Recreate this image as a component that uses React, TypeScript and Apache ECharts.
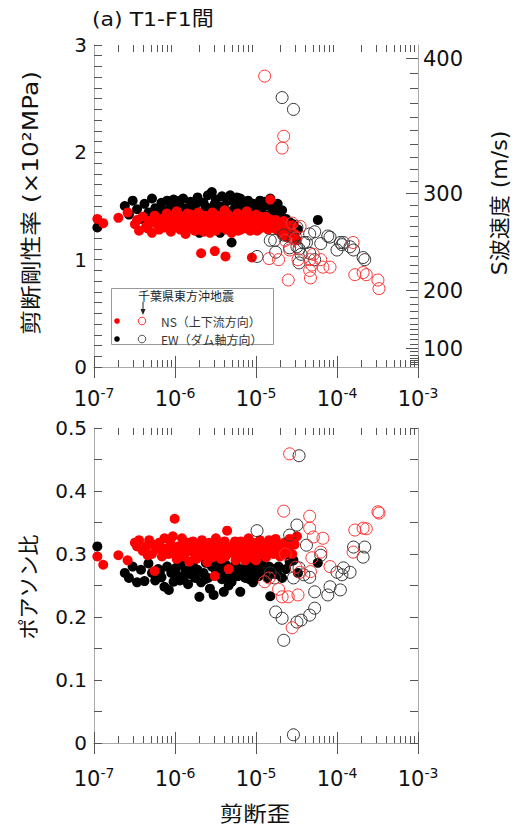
import React, { useEffect, useRef } from "react";
import * as echarts from "echarts";

// ---------- data: [shear strain, shear modulus (x10^2 MPa), Poisson's ratio] ----------
const nsSolid: [number, number, number][] = [
  [1.1e-7, 1.38, 0.296], [1.3e-7, 1.34, 0.283], [2.0e-7, 1.39, 0.298], [2.6e-7, 1.44, 0.29],
  [3.2e-7, 1.33, 0.318], [3.4e-7, 1.37, 0.312], [3.6e-7, 1.27, 0.322], [4.0e-7, 1.40, 0.305],
  [4.4e-7, 1.31, 0.312], [4.6e-7, 1.29, 0.298], [4.8e-7, 1.36, 0.322], [5.2e-7, 1.25, 0.30],
  [5.4e-7, 1.35, 0.315], [5.6e-7, 1.41, 0.273], [6.0e-7, 1.33, 0.31], [6.4e-7, 1.28, 0.318],
  [6.7e-7, 1.32, 0.306], [6.9e-7, 1.38, 0.296], [7.4e-7, 1.30, 0.325], [7.6e-7, 1.37, 0.30],
  [7.9e-7, 1.43, 0.309], [8.4e-7, 1.34, 0.30], [8.7e-7, 1.31, 0.322], [8.9e-7, 1.26, 0.314],
  [9.4e-7, 1.39, 0.328], [9.9e-7, 1.31, 0.356], [1.0e-6, 1.36, 0.305], [1.05e-6, 1.45, 0.292],
  [1.1e-6, 1.35, 0.312], [1.13e-6, 1.41, 0.298], [1.16e-6, 1.28, 0.304], [1.22e-6, 1.40, 0.325],
  [1.25e-6, 1.29, 0.316], [1.28e-6, 1.32, 0.296], [1.35e-6, 1.24, 0.31], [1.38e-6, 1.33, 0.303],
  [1.42e-6, 1.43, 0.318], [1.5e-6, 1.36, 0.288], [1.54e-6, 1.42, 0.31], [1.58e-6, 1.30, 0.306],
  [1.66e-6, 1.39, 0.32], [1.7e-6, 1.35, 0.318], [1.75e-6, 1.27, 0.30], [1.84e-6, 1.34, 0.292],
  [1.9e-6, 1.28, 0.298], [1.94e-6, 1.44, 0.314], [2.04e-6, 1.31, 0.305], [2.1e-6, 1.06, 0.298],
  [2.15e-6, 1.37, 0.322], [2.2e-6, 1.33, 0.308], [2.26e-6, 1.26, 0.298], [2.38e-6, 1.41, 0.31],
  [2.45e-6, 1.38, 0.296], [2.5e-6, 1.33, 0.287], [2.63e-6, 1.29, 0.318], [2.7e-6, 1.25, 0.312],
  [2.77e-6, 1.38, 0.303], [2.9e-6, 1.44, 0.295], [3.0e-6, 1.40, 0.318], [3.05e-6, 1.32, 0.31],
  [3.1e-6, 1.08, 0.265], [3.2e-6, 1.27, 0.325], [3.3e-6, 1.31, 0.305], [3.36e-6, 1.36, 0.30],
  [3.53e-6, 1.41, 0.316], [3.6e-6, 1.38, 0.296], [3.7e-6, 1.30, 0.292], [3.9e-6, 1.35, 0.306],
  [4.0e-6, 1.33, 0.315], [4.1e-6, 1.46, 0.32], [4.2e-6, 1.03, 0.296], [4.3e-6, 1.28, 0.299],
  [4.4e-6, 1.37, 0.337], [4.5e-6, 1.42, 0.302], [4.6e-6, 1.33, 0.276], [4.8e-6, 1.40, 0.31],
  [5.0e-6, 1.25, 0.302], [5.1e-6, 1.30, 0.308], [5.3e-6, 1.36, 0.315], [5.5e-6, 1.38, 0.32],
  [5.6e-6, 1.31, 0.29], [5.9e-6, 1.43, 0.308], [6.0e-6, 1.27, 0.303], [6.2e-6, 1.34, 0.296],
  [6.5e-6, 1.28, 0.32], [6.7e-6, 1.34, 0.313], [6.9e-6, 1.39, 0.305], [7.3e-6, 1.32, 0.29],
  [7.5e-6, 1.29, 0.298], [7.7e-6, 1.45, 0.312], [8.1e-6, 1.35, 0.325], [8.3e-6, 1.41, 0.31],
  [8.5e-6, 1.27, 0.30], [8.9e-6, 1.02, 0.294], [9.0e-6, 1.38, 0.318], [9.2e-6, 1.35, 0.30],
  [9.5e-6, 1.31, 0.306], [1.0e-5, 1.42, 0.29], [1.03e-5, 1.27, 0.318], [1.06e-5, 1.34, 0.313],
  [1.12e-5, 1.29, 0.322], [1.15e-5, 1.40, 0.305], [1.18e-5, 1.37, 0.30], [1.25e-5, 1.32, 0.31],
  [1.3e-5, 1.33, 0.298], [1.33e-5, 1.40, 0.295], [1.41e-5, 1.28, 0.318], [1.45e-5, 1.38, 0.322],
  [1.5e-5, 1.56, 0.305], [1.55e-5, 1.35, 0.312], [1.65e-5, 1.31, 0.30], [1.7e-5, 1.29, 0.307],
  [1.75e-5, 1.37, 0.324], [1.86e-5, 1.27, 0.311], [1.9e-5, 1.33, 0.315], [1.98e-5, 1.34, 0.296],
  [2.1e-5, 1.23, 0.305], [2.2e-5, 1.36, 0.30], [2.25e-5, 1.30, 0.318], [2.4e-5, 1.21, 0.311],
  [2.5e-5, 1.30, 0.31], [2.6e-5, 1.26, 0.324], [2.8e-5, 1.32, 0.30], [3.0e-5, 1.24, 0.315],
  [3.2e-5, 1.18, 0.328],
];

const ewSolid: [number, number, number][] = [
  [1.1e-7, 1.30, 0.312], [2.4e-7, 1.50, 0.27], [2.7e-7, 1.42, 0.262], [3.0e-7, 1.55, 0.28],
  [3.4e-7, 1.47, 0.255], [3.8e-7, 1.38, 0.275], [4.2e-7, 1.52, 0.257], [4.7e-7, 1.44, 0.285],
  [5.2e-7, 1.57, 0.27], [5.7e-7, 1.48, 0.258], [6.2e-7, 1.40, 0.276], [6.5e-7, 1.47, 0.272],
  [6.8e-7, 1.53, 0.263], [7.4e-7, 1.46, 0.248], [8.0e-7, 1.55, 0.28], [8.4e-7, 1.42, 0.243],
  [9.0e-7, 1.50, 0.27], [9.6e-7, 1.56, 0.256], [1.03e-6, 1.45, 0.278], [1.1e-6, 1.52, 0.265],
  [1.15e-6, 1.55, 0.258], [1.18e-6, 1.39, 0.284], [1.26e-6, 1.57, 0.26], [1.35e-6, 1.48, 0.274],
  [1.45e-6, 1.43, 0.252], [1.55e-6, 1.54, 0.268], [1.66e-6, 1.46, 0.282], [1.7e-6, 1.40, 0.266],
  [1.78e-6, 1.51, 0.262], [1.9e-6, 1.58, 0.275], [2.0e-6, 1.25, 0.232], [2.1e-6, 1.44, 0.255],
  [2.25e-6, 1.53, 0.27], [2.35e-6, 1.45, 0.26], [2.4e-6, 1.49, 0.286], [2.55e-6, 1.60, 0.262],
  [2.7e-6, 1.48, 0.245], [2.85e-6, 1.63, 0.28], [3.0e-6, 1.42, 0.235], [3.1e-6, 1.52, 0.283],
  [3.2e-6, 1.56, 0.274], [3.4e-6, 1.50, 0.266], [3.6e-6, 1.25, 0.28], [3.7e-6, 1.44, 0.272],
  [3.8e-6, 1.59, 0.26], [4.0e-6, 1.50, 0.24], [4.25e-6, 1.45, 0.283], [4.5e-6, 1.55, 0.262],
  [4.6e-6, 1.40, 0.25], [4.8e-6, 1.60, 0.275], [5.0e-6, 1.16, 0.256], [5.3e-6, 1.47, 0.27],
  [5.6e-6, 1.53, 0.284], [5.8e-6, 1.58, 0.278], [6.0e-6, 1.41, 0.265], [6.4e-6, 1.57, 0.24],
  [6.9e-6, 1.49, 0.276], [7.1e-6, 1.52, 0.268], [7.4e-6, 1.44, 0.262], [8.0e-6, 1.55, 0.283],
  [8.3e-6, 1.42, 0.26], [8.6e-6, 1.48, 0.27], [9.2e-6, 1.52, 0.255], [1.0e-5, 1.43, 0.278],
  [1.08e-5, 1.50, 0.265], [1.12e-5, 1.55, 0.272], [1.17e-5, 1.46, 0.285], [1.27e-5, 1.54, 0.27],
  [1.38e-5, 1.41, 0.262], [1.45e-5, 1.50, 0.28], [1.5e-5, 1.57, 0.233], [1.62e-5, 1.48, 0.276],
  [1.75e-5, 1.44, 0.268], [1.85e-5, 1.52, 0.268], [1.9e-5, 1.40, 0.28], [2.1e-5, 1.46, 0.262],
  [2.35e-5, 1.38, 0.276], [2.6e-5, 1.35, 0.288], [2.9e-5, 1.33, 0.29], [3.3e-5, 1.28, 0.27],
  [5.8e-5, 1.37, 0.286],
];

const nsOpen: [number, number, number][] = [
  [1.28e-5, 2.71, 0.256], [1.45e-5, 1.01, 0.262], [1.9e-5, 1.00, 0.244], [2.1e-5, 2.04, 0.232],
  [2.2e-5, 2.15, 0.368], [2.3e-5, 1.18, 0.30], [2.5e-5, 0.81, 0.232], [2.6e-5, 1.09, 0.459],
  [2.8e-5, 1.34, 0.183], [3.1e-5, 1.20, 0.279], [3.3e-5, 1.00, 0.235], [3.5e-5, 1.31, 0.271],
  [4.6e-5, 1.00, 0.36], [4.6e-5, 0.90, 0.341], [4.7e-5, 0.83, 0.272], [4.9e-5, 0.95, 0.294],
  [5.1e-5, 1.05, 0.327], [6.3e-5, 1.00, 0.303], [6.7e-5, 0.93, 0.325], [8.2e-5, 0.93, 0.28],
  [1.58e-4, 1.16, 0.303], [1.66e-4, 0.86, 0.338], [2.1e-4, 0.88, 0.341], [2.3e-4, 0.86, 0.34],
  [3.2e-4, 0.81, 0.367], [3.3e-4, 0.73, 0.365],
];

const ewOpen: [number, number, number][] = [
  [1.03e-5, 1.03, 0.337], [1.5e-5, 1.18, 0.27], [1.7e-5, 1.18, 0.262], [1.75e-5, 1.07, 0.208],
  [2.1e-5, 2.51, 0.198], [2.2e-5, 1.23, 0.163], [2.6e-5, 1.11, 0.33], [2.9e-5, 2.40, 0.013],
  [2.9e-5, 1.20, 0.262], [3.2e-5, 1.30, 0.346], [3.2e-5, 1.12, 0.192], [3.4e-5, 0.97, 0.278],
  [3.4e-5, 1.10, 0.456], [3.6e-5, 1.05, 0.195], [3.9e-5, 1.16, 0.267], [4.2e-5, 1.16, 0.314],
  [4.6e-5, 1.06, 0.263], [4.6e-5, 1.24, 0.203], [5.3e-5, 1.26, 0.214], [5.3e-5, 1.00, 0.240],
  [6.3e-5, 1.15, 0.298], [7.7e-5, 1.22, 0.235], [8.2e-5, 1.21, 0.248], [1.0e-4, 1.09, 0.271],
  [1.1e-4, 1.16, 0.243], [1.15e-4, 1.14, 0.267], [1.2e-4, 1.16, 0.278], [1.45e-4, 1.12, 0.271],
  [1.6e-4, 1.09, 0.311], [2.1e-4, 1.02, 0.295], [2.2e-4, 1.00, 0.311],
];

// ---------- axes ----------
const STRAIN_MIN = 1e-7;
const STRAIN_MAX = 1e-3;
const decadeExponents = [-7, -6, -5, -4];
const minorMultipliers = [2, 3, 4, 5, 6, 7, 8, 9];
const vsMajorLabels = [100, 200, 300, 400];
const vsMinorTicks = [40, 50, 60, 70, 80, 90, 110, 120, 130, 140, 150, 160, 170, 180, 190,
  210, 220, 230, 240, 250, 260, 270, 280, 290, 310, 320, 330, 340, 350, 360, 370, 380, 390];
const RHO = 1.8; // t/m^3 ; G(x10^2 MPa) = RHO * Vs^2 / 1e5

const LAT = "'DejaVu Sans', 'Noto Sans CJK JP', sans-serif";
const CJK = "'Noto Sans CJK JP', 'DejaVu Sans', sans-serif";
const AXIS_GRAY = "#aaaaaa";
const TICK = "#555555";

const minorStrainTicks: number[] = [];
decadeExponents.forEach((e) => minorMultipliers.forEach((m) => minorStrainTicks.push(m * Math.pow(10, e))));

function logLabel(v: number) {
  return `{b|10}{s|${Math.round(Math.log10(v))}}`;
}

function xAxisPair(grid: number, margin: number) {
  return [
    {
      type: "log", logBase: 10, gridIndex: grid, min: STRAIN_MIN, max: STRAIN_MAX, position: "bottom",
      axisLine: { show: true, lineStyle: { color: AXIS_GRAY, width: 1 } },
      axisTick: { show: true, inside: true, length: 11, lineStyle: { color: TICK } },
      splitLine: { show: false },
      axisLabel: {
        margin, formatter: logLabel,
        rich: {
          b: { fontSize: 21, fontFamily: LAT, color: "#111", lineHeight: 26 },
          s: { fontSize: 14, fontFamily: LAT, color: "#111", lineHeight: 14, verticalAlign: "top" },
        },
      },
    },
    {
      type: "log", logBase: 10, gridIndex: grid, min: STRAIN_MIN, max: STRAIN_MAX, position: "top",
      axisLine: { show: true, lineStyle: { color: AXIS_GRAY, width: 1 } },
      axisTick: { show: true, inside: true, length: 11, lineStyle: { color: TICK } },
      splitLine: { show: false },
      axisLabel: { show: false },
    },
  ];
}

function minorTickSeries(xi: number, yi: number) {
  return {
    type: "custom", xAxisIndex: xi, yAxisIndex: yi, silent: true, clip: false, z: 3,
    data: minorStrainTicks.map((v) => [v, 0]),
    encode: { x: 0, y: 1 },
    renderItem: (params: any, api: any) => {
      const cs = params.coordSys;
      const x = Math.round(api.coord([api.value(0), 0])[0]) + 0.5;
      const yb = cs.y + cs.height;
      const yt = cs.y;
      return {
        type: "group",
        children: [
          { type: "line", shape: { x1: x, y1: yb, x2: x, y2: yb - 7 }, style: { stroke: TICK, lineWidth: 1 } },
          { type: "line", shape: { x1: x, y1: yt, x2: x, y2: yt + 7 }, style: { stroke: TICK, lineWidth: 1 } },
        ],
      };
    },
  };
}

function scatterSeries(name: string, rows: [number, number, number][], xi: number, yi: number, col: number, open: boolean, color: string) {
  return {
    type: "scatter", name, xAxisIndex: xi, yAxisIndex: yi, symbol: "circle",
    symbolSize: open ? 12 : 10,
    data: rows.map((r) => [r[0], r[col]]),
    itemStyle: open
      ? { color: "rgba(0,0,0,0)", borderColor: color, borderWidth: 1, opacity: 1 }
      : { color, borderWidth: 0, opacity: 1 },
    z: open ? 4 : 2,
  };
}

function label(text: string, x: number, y: number, size: number, font: string, opts: any = {}) {
  return {
    type: "text", x, y, rotation: opts.rotation || 0, scaleX: opts.scaleX || 1, z: opts.z || 0,
    style: {
      text, fontSize: size, fontFamily: font, fill: opts.fill || "#111",
      lineHeight: opts.lineHeight || undefined,
      textAlign: opts.align || "center", align: opts.align || "center",
      textVerticalAlign: "middle", verticalAlign: "middle",
    },
  };
}

export default function App() {
  const ref = useRef<HTMLDivElement>(null);
  useEffect(() => {
    document.body.style.margin = "0";
    if (!ref.current) return;
    const chart = echarts.init(ref.current, undefined, { renderer: "svg" });

    const vsData = [
      ...vsMajorLabels.map((v) => [STRAIN_MAX, (RHO * v * v) / 1e5, v, 1]),
      ...vsMinorTicks.map((v) => [STRAIN_MAX, (RHO * v * v) / 1e5, v, 0]),
    ];

    const yCommon = {
      axisLine: { show: true, lineStyle: { color: AXIS_GRAY, width: 1 } },
      axisTick: { show: true, inside: true, length: 8, lineStyle: { color: TICK } },
      minorTick: { show: true, length: 8, lineStyle: { color: TICK } },
      splitLine: { show: false },
      minorSplitLine: { show: false },
    };

    chart.setOption({
      animation: false,
      backgroundColor: "#ffffff",
      grid: [
        { left: 94, top: 45, width: 324, height: 322 },
        { left: 94, top: 428, width: 324, height: 315 },
      ],
      xAxis: [...xAxisPair(0, 19), ...xAxisPair(1, 23)],
      yAxis: [
        {
          type: "value", gridIndex: 0, min: 0, max: 3, interval: 1, position: "left", ...yCommon,
          minorTick: { ...yCommon.minorTick, splitNumber: 10 },
          axisLabel: { margin: 7, fontSize: 20, fontFamily: LAT, color: "#111" },
        },
        {
          type: "value", gridIndex: 0, min: 0, max: 3, interval: 1, position: "right",
          axisLine: { show: true, lineStyle: { color: AXIS_GRAY, width: 1 } },
          axisTick: { show: false }, axisLabel: { show: false }, splitLine: { show: false },
        },
        {
          type: "value", gridIndex: 1, min: 0, max: 0.5, interval: 0.1, position: "left", ...yCommon,
          minorTick: { ...yCommon.minorTick, splitNumber: 2 },
          axisLabel: { margin: 7, fontSize: 20, fontFamily: LAT, color: "#111" },
        },
        {
          type: "value", gridIndex: 1, min: 0, max: 0.5, interval: 0.1, position: "right", ...yCommon,
          minorTick: { ...yCommon.minorTick, splitNumber: 2 },
          axisLabel: { show: false },
        },
      ],
      series: [
        minorTickSeries(0, 0),
        minorTickSeries(2, 2),
        {
          type: "custom", xAxisIndex: 0, yAxisIndex: 1, silent: true, clip: false, z: 3,
          data: vsData,
          encode: { x: 0, y: 1 },
          renderItem: (params: any, api: any) => {
            const cs = params.coordSys;
            const xr = cs.x + cs.width;
            const y = Math.round(api.coord([api.value(0), api.value(1)])[1]) + 0.5;
            const major = api.value(3) === 1;
            const children: any[] = [
              { type: "line", shape: { x1: xr, y1: y, x2: xr - (major ? 12 : 8), y2: y }, style: { stroke: TICK, lineWidth: 1 } },
            ];
            if (major) {
              children.push({
                type: "text", x: xr + 5, y,
                style: {
                  text: String(api.value(2)), fontSize: 21, fontFamily: LAT, fill: "#111",
                  align: "left", verticalAlign: "middle", textAlign: "left", textVerticalAlign: "middle",
                },
              });
            }
            return { type: "group", children };
          },
        },
        scatterSeries("EW", ewSolid, 0, 0, 1, false, "#000000"),
        scatterSeries("NS", nsSolid, 0, 0, 1, false, "#ff0000"),
        scatterSeries("EW open", ewOpen, 0, 0, 1, true, "#333333"),
        scatterSeries("NS open", nsOpen, 0, 0, 1, true, "#ff3030"),
        scatterSeries("EW", ewSolid, 2, 2, 2, false, "#000000"),
        scatterSeries("NS", nsSolid, 2, 2, 2, false, "#ff0000"),
        scatterSeries("EW open", ewOpen, 2, 2, 2, true, "#333333"),
        scatterSeries("NS open", nsOpen, 2, 2, 2, true, "#ff3030"),
      ],
      graphic: [
        label("(a) T1-F1間", 92, 19, 20, LAT, { align: "left", scaleX: 1.1 }),
        label("剪断剛性率 (×10²MPa)", 31, 203, 21, LAT, { rotation: Math.PI / 2, scaleX: 1.18 }),
        label("S波速度 (m/s)", 500, 203, 21, LAT, { rotation: Math.PI / 2, scaleX: 1.05 }),
        label("ポアソン比", 27, 587, 21, CJK, { rotation: Math.PI / 2 }),
        label("剪断歪", 255, 812, 21, CJK, { scaleX: 1.12 }),
        // legend box
        { type: "rect", shape: { x: 111.5, y: 288.5, width: 162, height: 56 }, style: { fill: "#ffffff", stroke: "#999999", lineWidth: 1 }, z: 10 },
        label("千葉県東方沖地震", 138, 295, 12, CJK, { align: "left", fill: "#222", z: 11, lineHeight: 13 }),
        { type: "line", shape: { x1: 143, y1: 302, x2: 143, y2: 310 }, style: { stroke: "#222", lineWidth: 1 }, z: 11 },
        { type: "polygon", shape: { points: [[140.5, 309], [145.5, 309], [143, 315]] }, style: { fill: "#222" }, z: 11 },
        { type: "circle", shape: { cx: 117, cy: 321, r: 2.8 }, style: { fill: "#ff0000" }, z: 11 },
        { type: "circle", shape: { cx: 142, cy: 321, r: 3.8 }, style: { fill: "none", stroke: "#ff3030", lineWidth: 1 }, z: 11 },
        label("NS（上下流方向）", 161, 321, 12, CJK, { align: "left", fill: "#333", z: 11, lineHeight: 13 }),
        { type: "circle", shape: { cx: 117, cy: 339, r: 2.8 }, style: { fill: "#000000" }, z: 11 },
        { type: "circle", shape: { cx: 142, cy: 339, r: 3.8 }, style: { fill: "none", stroke: "#555", lineWidth: 1 }, z: 11 },
        label("EW（ダム軸方向）", 161, 339, 12, CJK, { align: "left", fill: "#333", z: 11, lineHeight: 13 }),
      ],
    });
    return () => chart.dispose();
  }, []);

  return <div ref={ref} style={{ position: "absolute", left: 0, top: 0, width: 517, height: 828 }} />;
}
